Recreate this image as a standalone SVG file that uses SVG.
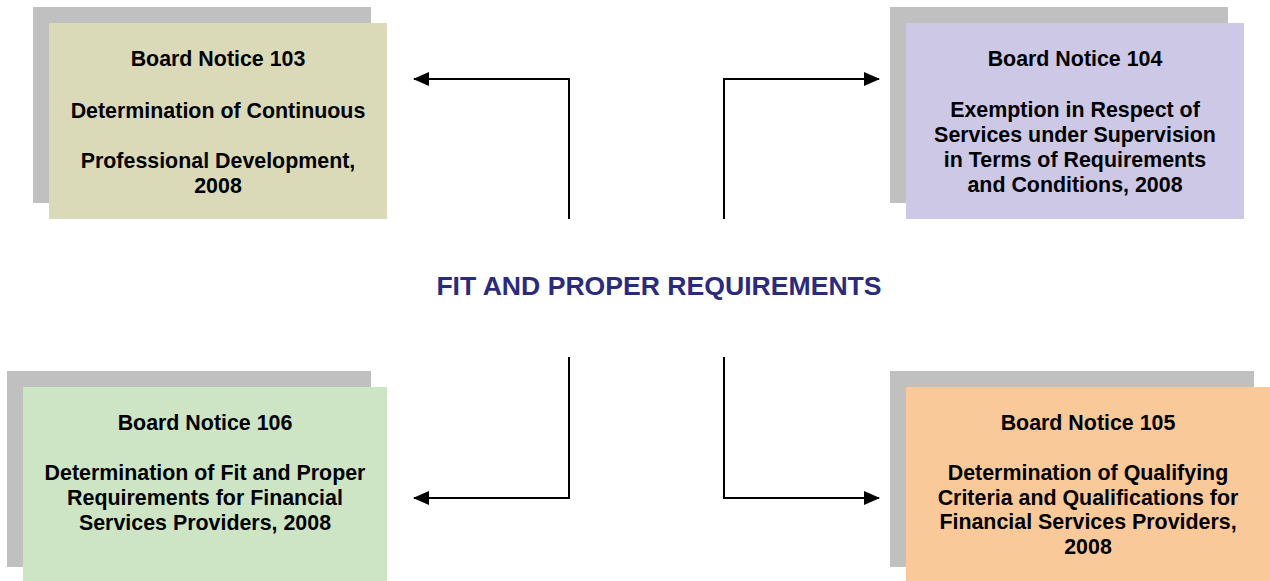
<svg xmlns="http://www.w3.org/2000/svg" width="1270" height="581" viewBox="0 0 1270 581">
  <style>
    .shadow { fill: #C0C0C0; }
    .label { font-family: "Liberation Sans", Arial, sans-serif; font-weight: bold; font-size: 21.4px; fill: #000; text-anchor: middle; }
    .title { font-family: "Liberation Sans", Arial, sans-serif; font-weight: bold; font-size: 26.6px; fill: #2B2B7B; text-anchor: middle; }
    .conn { fill: none; stroke: #000; stroke-width: 2; }
  </style>
  <defs>
    <marker id="arrow" viewBox="0 0 16 14" refX="15" refY="7" markerWidth="16" markerHeight="14" markerUnits="userSpaceOnUse" orient="auto">
      <path d="M0,0 L16,7 L0,14 Z" fill="#000"/>
    </marker>
  </defs>
  <rect width="1270" height="581" fill="#fff"/>

  <!-- Board Notice 103 -->
  <g id="bn103">
    <rect class="shadow" x="33" y="7" width="338" height="196"/>
    <rect x="49" y="23" width="338" height="196" fill="#DADAB9"/>
    <text class="label" x="218" y="66">Board Notice 103</text>
    <text class="label" x="218" y="118">Determination of Continuous</text>
    <text class="label" x="218" y="168">Professional Development,</text>
    <text class="label" x="218" y="193">2008</text>
  </g>

  <!-- Board Notice 104 -->
  <g id="bn104">
    <rect class="shadow" x="890" y="7" width="338" height="196"/>
    <rect x="906" y="23" width="338" height="196" fill="#CCC8E5"/>
    <text class="label" x="1075" y="66">Board Notice 104</text>
    <text class="label" x="1075" y="117">Exemption in Respect of</text>
    <text class="label" x="1075" y="142">Services under Supervision</text>
    <text class="label" x="1075" y="167">in Terms of Requirements</text>
    <text class="label" x="1075" y="192">and Conditions, 2008</text>
  </g>

  <!-- Board Notice 106 -->
  <g id="bn106">
    <rect class="shadow" x="7" y="371" width="364" height="196"/>
    <rect x="23" y="387" width="364" height="196" fill="#CDE5C4"/>
    <text class="label" x="205" y="430">Board Notice 106</text>
    <text class="label" x="205" y="480">Determination of Fit and Proper</text>
    <text class="label" x="205" y="505">Requirements for Financial</text>
    <text class="label" x="205" y="530">Services Providers, 2008</text>
  </g>

  <!-- Board Notice 105 -->
  <g id="bn105">
    <rect class="shadow" x="890" y="371" width="364" height="196"/>
    <rect x="906" y="387" width="364" height="196" fill="#F9C99A"/>
    <text class="label" x="1088" y="430">Board Notice 105</text>
    <text class="label" x="1088" y="480">Determination of Qualifying</text>
    <text class="label" x="1088" y="505">Criteria and Qualifications for</text>
    <text class="label" x="1088" y="529">Financial Services Providers,</text>
    <text class="label" x="1088" y="554">2008</text>
  </g>

  <!-- Central heading -->
  <g id="fit-proper">
    <text class="title" x="659" y="295">FIT AND PROPER REQUIREMENTS</text>
  </g>

  <!-- Connectors -->
  <g id="connectors">
    <path class="conn" d="M569,219 V79 H414" marker-end="url(#arrow)"/>
    <path class="conn" d="M724,219 V79 H879" marker-end="url(#arrow)"/>
    <path class="conn" d="M569,357 V498 H414" marker-end="url(#arrow)"/>
    <path class="conn" d="M724,357 V498 H879" marker-end="url(#arrow)"/>
  </g>
</svg>
